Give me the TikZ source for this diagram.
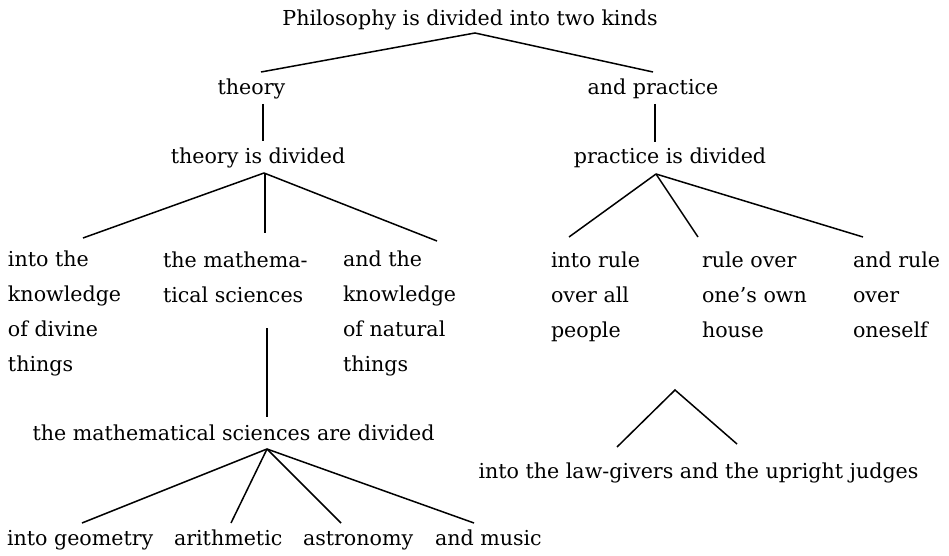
\documentclass[tikz,border=0pt]{standalone}
\usepackage{fontspec}
\setmainfont{DejaVu Serif}
\usetikzlibrary{calc}
\begin{document}
\begin{tikzpicture}[x=1pt,y=-1pt,
  every node/.style={inner sep=0pt,outer sep=0pt,font=\fontsize{20.6}{34.8}\selectfont},
  lbl/.style={anchor=base},
  blk/.style={anchor=base west,align=left},
  conn/.style={line width=1.5pt}]
\useasboundingbox (0,0) rectangle (949,556);
\node[lbl] (root) at (470,26) {Philosophy is divided into two kinds};
\node[lbl] (theory) at (251.5,95) {theory};
\node[lbl] (prac) at (653,95) {and practice};
\node[lbl] (thdiv) at (258,164) {theory is divided};
\node[lbl] (prdiv) at (670,164) {practice is divided};
\node[blk] (divine) at (8,371) {into the\\knowledge\\of divine\\things};
\node[blk] (math) at (163,302) {the mathema-\\tical sciences};
\node[blk] (natural) at (343,371) {and the\\knowledge\\of natural\\things};
\node[lbl] (mathdiv) at (233.5,440) {the mathematical sciences are divided};
\node[blk] (geom) at (7,545) {into geometry};
\node[blk] (arith) at (174,545) {arithmetic};
\node[blk] (astro) at (303,545) {astronomy};
\node[blk] (music) at (435,545) {and music};
\node[blk] (rule1) at (551,337) {into rule\\over all\\people};
\node[blk] (rule2) at (702,337) {rule over\\one’s own\\house};
\node[blk] (rule3) at (853,337) {and rule\\over\\oneself};
\node[lbl] (law) at (698.5,478) {into the law-givers and the upright judges};
\coordinate (lawtop) at ($(law.base)+(-23.5,-88)$);
\draw[conn] ($(theory.base)+(9.5,-23)$) -- ($(root.base)+(5,7)$) -- ($(prac.base)+(0,-23)$);
\draw[conn] ($(theory.base)+(11.5,9)$) -- ($(thdiv.base)+(5,-23)$);
\draw[conn] ($(prac.base)+(2,9)$) -- ($(prdiv.base)+(-15,-22)$);
\draw[conn] ($(thdiv.base)+(6,9)$) -- ($(divine.base west)+(75,-133)$);
\draw[conn] ($(thdiv.base)+(7,9)$) -- ($(math.base west)+(102,-69)$);
\draw[conn] ($(thdiv.base)+(6,9)$) -- ($(natural.base west)+(94,-130)$);
\draw[conn] ($(prdiv.base)+(-14,10)$) -- ($(rule1.base west)+(18,-100)$);
\draw[conn] ($(prdiv.base)+(-14,10)$) -- ($(rule2.base west)+(-4,-100)$);
\draw[conn] ($(prdiv.base)+(-14,10)$) -- ($(rule3.base west)+(10,-100)$);
\draw[conn] ($(math.base west)+(104,26)$) -- ($(mathdiv.base)+(33.5,-23)$);
\draw[conn] ($(mathdiv.base)+(33.5,9)$) -- ($(geom.base west)+(75,-22)$);
\draw[conn] ($(mathdiv.base)+(33.5,9)$) -- ($(arith.base west)+(57,-22)$);
\draw[conn] ($(mathdiv.base)+(33.5,9)$) -- ($(astro.base west)+(38,-22)$);
\draw[conn] ($(mathdiv.base)+(33.5,9)$) -- ($(music.base west)+(39,-22)$);
\draw[conn] ($(law.base)+(-81.5,-31)$) -- (lawtop) -- ($(law.base)+(38.5,-34)$);
\end{tikzpicture}
\end{document}
